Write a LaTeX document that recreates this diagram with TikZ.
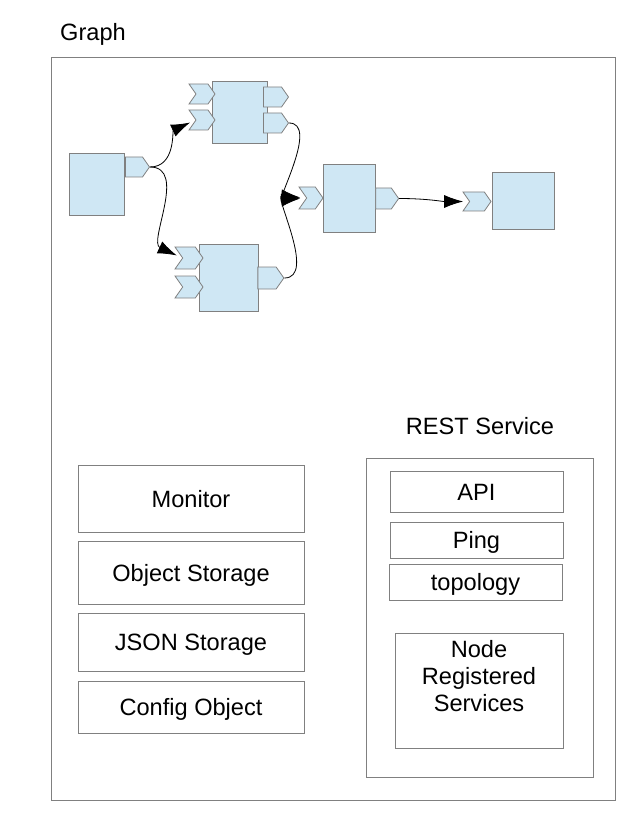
\documentclass[tikz,border=0pt]{standalone}
\usepackage{fontspec}
\setmainfont{Liberation Sans}
\usetikzlibrary{positioning,arrows.meta,shapes.symbols}
\definecolor{compblue}{RGB}{207,231,244}
\definecolor{edgegray}{RGB}{128,128,128}
\newcommand{\boxfont}{\fontsize{23.6}{27}\selectfont}

\begin{document}
\begin{tikzpicture}[
    x=1pt, y=-1pt,
    wh/.style 2 args={minimum width=#1pt, minimum height=#2pt},
    caption/.style={font=\boxfont, text height=17pt, text depth=0pt},
    frame/.style={rectangle, draw=edgegray, line width=0.8pt, inner sep=0pt, caption, align=center},
    block/.style={rectangle, draw=edgegray, fill=compblue, line width=0.8pt, inner sep=0pt},
    port/.style={signal, signal to=east, signal pointer angle=110, draw=edgegray, fill=compblue, line width=0.8pt, inner sep=0pt},
    inport/.style={port, signal from=west},
    link/.style={-{Latex[length=19pt,width=13pt]}, line width=0.8pt, shorten >=6pt}
]
    \useasboundingbox (0,0) rectangle (643,826);

    % Outer frame
    \node[caption, anchor=west, inner sep=0pt] (graphlabel) at (60,32) {Graph};
    \node[frame, wh={564}{743}] (graph) at (333,428.5) {};

    % Components of the graph
    \node[block, wh={55}{62}] (src) at (96.5,184) {};
    \node[block, wh={55}{62}] (top) at (239.5,112) {};
    \node[block, wh={59}{67}] (bot) at (228.5,277.5) {};
    \node[block, wh={52}{68}] (mid) at (349,198) {};
    \node[block, wh={62}{57}] (sink) at (523,200.5) {};

    % Output ports
    \node[port, wh={24}{20}] (srcout) at (134,167) {};
    \node[port, wh={25}{20}] (topout1) at (272.5,97) {};
    \node[port, wh={25}{20}] (topout2) at (272.5,123) {};
    \node[port, wh={26}{22}] (botout) at (267,278) {};
    \node[port, wh={23}{21}] (midout) at (383.5,198.5) {};

    % Input ports
    \node[inport, wh={26}{20}] (topin1) at (202,94) {};
    \node[inport, wh={26}{20}] (topin2) at (202,120) {};
    \node[inport, wh={28}{22}] (botin1) at (189,258) {};
    \node[inport, wh={28}{22}] (botin2) at (189,287) {};
    \node[inport, wh={24}{22}] (midin) at (311,198) {};
    \node[inport, wh={28}{19}] (sinkin) at (477,201.5) {};

    % Links
    \draw[link] (srcout.east) to[out=0, in=205] (topin2.west);
    \draw[link] (srcout.east) to[out=0, in=155] (botin1.west);
    \draw[link] (topout2.east) to[out=0, in=185] (midin.west);
    \draw[link] (botout.east) to[out=0, in=175] (midin.west);
    \draw[link] (midout.east) to[out=0, in=180] (sinkin.west);

    % Left column
    \node[frame, wh={226}{67}] (monitor) at (191,498.5) {Monitor};
    \node[frame, wh={226}{63}] (objstore) at (191,572.5) {Object Storage};
    \node[frame, wh={226}{58}] (jsonstore) at (191,642) {JSON Storage};
    \node[frame, wh={226}{52}] (config) at (191,707) {Config Object};

    % REST service
    \node[caption] (restlabel) at (480,425.5) {REST Service};
    \node[frame, wh={227}{319}] (rest) at (479.5,617.5) {};
    \node[frame, wh={173}{41}] (api) at (476.5,491.5) {API};
    \node[frame, wh={173}{36}] (ping) at (476.5,540) {Ping};
    \node[frame, wh={173}{36}] (topo) at (475.5,582) {topology};
    \node[frame, wh={168}{115}] (services) at (479,690.5) {};
    \node[anchor=north, font=\boxfont, align=center, inner sep=0pt] (servicestext) at ([yshift=-8pt]services.north) {Node\\Registered\\Services};

\end{tikzpicture}
\end{document}
